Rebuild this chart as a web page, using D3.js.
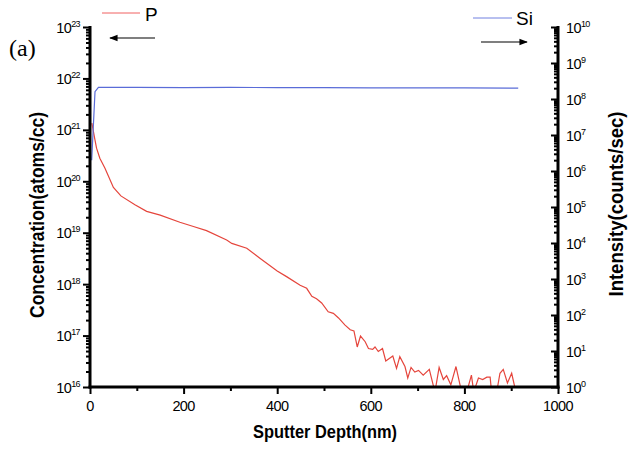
<!DOCTYPE html>
<html>
<head>
<meta charset="utf-8">
<script src="https://cdn.jsdelivr.net/npm/d3@7"></script>
<style>
body { margin: 0; background: #fff; }
svg { font-family: "Liberation Sans", Arial, sans-serif; }
</style>
</head>
<body>
<div id="chart"></div>
<script>
// P concentration profile (left axis)
var depthP = [4, 10.7, 14, 21, 32, 50, 66, 96, 121, 150, 192, 221, 249, 292, 303, 335, 363, 400, 420,
  449, 463, 474, 484, 495, 509, 520, 531, 545, 556, 564, 571, 578, 588, 595, 604, 609, 616, 625, 632,
  647, 655, 662, 673, 679, 686, 694, 702, 712, 725, 737, 746, 755, 762, 771, 782, 794, 805, 815, 820,
  830, 839, 848, 855, 858, 869, 876, 883, 892, 901, 910];
var concP = [1.35e21, 6.3e20, 4.4e20, 2.8e20, 1.8e20, 7.6e19, 5.2e19, 3.5e19, 2.6e19, 2.2e19, 1.6e19,
  1.32e19, 1.1e19, 7.2e18, 6.2e18, 5.0e18, 3.2e18, 1.8e18, 1.4e18,
  9.5e17, 8.3e17, 5.8e17, 5.2e17, 4.3e17, 2.9e17, 2.7e17, 2.2e17, 1.6e17, 1.3e17, 1.23e17, 6.0e16,
  9.8e16, 7.6e16, 5.6e16, 5.4e16, 6.0e16, 4.9e16, 5.6e16, 3.2e16, 4.0e16, 2.3e16, 3.9e16, 2.5e16,
  1.5e16, 2.4e16, 1.95e16, 2.1e16, 1.7e16, 2.2e16, 8e15, 2.4e16, 1.4e16, 1.66e16, 1.1e16, 2.5e16,
  8e15, 8e15, 1.7e16, 8e15, 1.5e16, 1.4e16, 1.55e16, 1.55e16, 8e15, 8e15, 1.85e16, 2.2e16, 1.2e16,
  1.85e16, 8e15];

// Si intensity (right axis)
var depthSi = [3.6, 10.7, 18, 100, 200, 300, 400, 500, 600, 700, 800, 915];
var intSi = [2e6, 1.6e8, 2.1e8, 2.1e8, 2.08e8, 2.1e8, 2.07e8, 2.08e8, 2.05e8, 2.05e8, 2.03e8, 2.0e8];

var xTicks = [0, 200, 400, 600, 800, 1000];
var xMinor = [100, 300, 500, 700, 900];
var leftExp = [16, 17, 18, 19, 20, 21, 22, 23];
var rightExp = [0, 1, 2, 3, 4, 5, 6, 7, 8, 9, 10];

var width = 634, height = 451;
var pLeft = 90, pRight = 558, pTop = 27, pBottom = 387;

var svg = d3.select("#chart").append("svg").attr("width", width).attr("height", height);

var x = d3.scaleLinear().domain([0, 1000]).range([pLeft, pRight]);
var yL = d3.scaleLog().domain([1e16, 1e23]).range([pBottom, pTop]);
var yR = d3.scaleLog().domain([1, 1e10]).range([pBottom, pTop]);

function minors(exps) {
  var out = [];
  for (var i = 0; i < exps.length - 1; i++) {
    for (var k = 2; k < 10; k++) out.push(k * Math.pow(10, exps[i]));
  }
  return out;
}

var defs = svg.append("defs");
defs.append("clipPath").attr("id", "plot")
  .append("rect").attr("x", pLeft).attr("y", pTop).attr("width", pRight - pLeft).attr("height", pBottom - pTop);

// lines
var lineP = d3.line().x(function(d, i){ return x(depthP[i]); }).y(function(d){ return yL(d); });
var lineSi = d3.line().x(function(d, i){ return x(depthSi[i]); }).y(function(d){ return yR(d); });

svg.append("path").attr("d", lineP(concP)).attr("clip-path", "url(#plot)")
  .attr("fill", "none").attr("stroke", "#e5453c").attr("stroke-width", 1.2);
svg.append("path").attr("d", lineSi(intSi)).attr("clip-path", "url(#plot)")
  .attr("fill", "none").attr("stroke", "#5a6cd8").attr("stroke-width", 1.2);

// axes
function styleAxis(g) {
  g.select(".domain").remove();
  g.selectAll("line").attr("stroke", "#000").attr("stroke-width", 2);
  g.selectAll("text").remove();
}

svg.append("g").attr("transform", "translate(" + pLeft + ",0)")
  .call(d3.axisLeft(yL).tickValues(leftExp.map(function(e){ return Math.pow(10, e); })).tickSize(7))
  .call(styleAxis);
svg.append("g").attr("transform", "translate(" + pLeft + ",0)")
  .call(d3.axisLeft(yL).tickValues(minors(leftExp)).tickSize(4))
  .call(styleAxis);

svg.append("g").attr("transform", "translate(" + pRight + ",0)")
  .call(d3.axisLeft(yR).tickValues(rightExp.map(function(e){ return Math.pow(10, e); })).tickSize(7))
  .call(styleAxis);
svg.append("g").attr("transform", "translate(" + pRight + ",0)")
  .call(d3.axisLeft(yR).tickValues(minors(rightExp)).tickSize(4))
  .call(styleAxis);

svg.append("g").attr("transform", "translate(0," + pBottom + ")")
  .call(d3.axisBottom(x).tickValues(xTicks).tickSize(7))
  .call(styleAxis);
svg.append("g").attr("transform", "translate(0," + pBottom + ")")
  .call(d3.axisBottom(x).tickValues(xMinor).tickSize(4))
  .call(styleAxis);

// axis lines (thick)
svg.append("line").attr("x1", pLeft).attr("x2", pLeft).attr("y1", pTop - 1).attr("y2", pBottom + 1.5)
  .attr("stroke", "#000").attr("stroke-width", 3);
svg.append("line").attr("x1", pRight).attr("x2", pRight).attr("y1", pTop - 1).attr("y2", pBottom + 1.5)
  .attr("stroke", "#000").attr("stroke-width", 3);
svg.append("line").attr("x1", pLeft - 1.5).attr("x2", pRight + 1.5).attr("y1", pBottom).attr("y2", pBottom)
  .attr("stroke", "#000").attr("stroke-width", 3);

// tick labels
svg.append("g").selectAll("text").data(xTicks).join("text")
  .attr("x", function(d){ return x(d); }).attr("y", pBottom + 24)
  .attr("text-anchor", "middle").attr("font-size", 14.5).attr("letter-spacing", -0.6)
  .text(function(d){ return d; });

function powLabel(g) {
  g.each(function(e) {
    var t = d3.select(this);
    t.append("tspan").attr("font-size", 14.5).text("10");
    t.append("tspan").attr("font-size", 9).attr("dy", -6).text(e);
  });
}

svg.append("g").selectAll("text").data(leftExp).join("text")
  .attr("x", pLeft - 10).attr("y", function(d){ return yL(Math.pow(10, d)) + 5.5; })
  .attr("text-anchor", "end").attr("letter-spacing", -0.6)
  .call(powLabel);

svg.append("g").selectAll("text").data(rightExp).join("text")
  .attr("x", pRight + 8).attr("y", function(d){ return yR(Math.pow(10, d)) + 5.5; })
  .attr("text-anchor", "start").attr("letter-spacing", -0.6)
  .call(powLabel);

// axis titles
svg.append("text").attr("transform", "translate(44,215) rotate(-90)")
  .attr("text-anchor", "middle").attr("font-weight", "bold").attr("font-size", 20)
  .attr("textLength", 206).attr("lengthAdjust", "spacingAndGlyphs")
  .text("Concentration(atoms/cc)");
svg.append("text").attr("transform", "translate(623,204) rotate(-90)")
  .attr("text-anchor", "middle").attr("font-weight", "bold").attr("font-size", 20)
  .attr("textLength", 185).attr("lengthAdjust", "spacingAndGlyphs")
  .text("Intensity(counts/sec)");
svg.append("text").attr("x", 325).attr("y", 438)
  .attr("text-anchor", "middle").attr("font-weight", "bold").attr("font-size", 19)
  .attr("textLength", 144).attr("lengthAdjust", "spacingAndGlyphs")
  .text("Sputter Depth(nm)");

// panel label
svg.append("text").attr("x", 9).attr("y", 56).attr("font-family", "'Liberation Serif', serif")
  .attr("font-size", 24).text("(a)");

// legend + direction arrows
defs.append("marker").attr("id", "ah").attr("viewBox", "0 0 10 10").attr("refX", 9).attr("refY", 5)
  .attr("markerWidth", 7).attr("markerHeight", 7).attr("orient", "auto-start-reverse")
  .append("path").attr("d", "M0,1 L10,5 L0,9 Z").attr("fill", "#000");

svg.append("line").attr("x1", 102).attr("x2", 140).attr("y1", 13).attr("y2", 13)
  .attr("stroke", "#f06060").attr("stroke-width", 1);
svg.append("text").attr("x", 145).attr("y", 21).attr("font-size", 19).text("P");
svg.append("line").attr("x1", 155).attr("x2", 110).attr("y1", 38).attr("y2", 38)
  .attr("stroke", "#000").attr("stroke-width", 1.2).attr("marker-end", "url(#ah)");

svg.append("line").attr("x1", 473).attr("x2", 512).attr("y1", 18).attr("y2", 18)
  .attr("stroke", "#7080e0").attr("stroke-width", 1);
svg.append("text").attr("x", 516).attr("y", 25).attr("font-size", 19).text("Si");
svg.append("line").attr("x1", 481).attr("x2", 527).attr("y1", 42).attr("y2", 42)
  .attr("stroke", "#000").attr("stroke-width", 1.2).attr("marker-end", "url(#ah)");
</script>
</body>
</html>
